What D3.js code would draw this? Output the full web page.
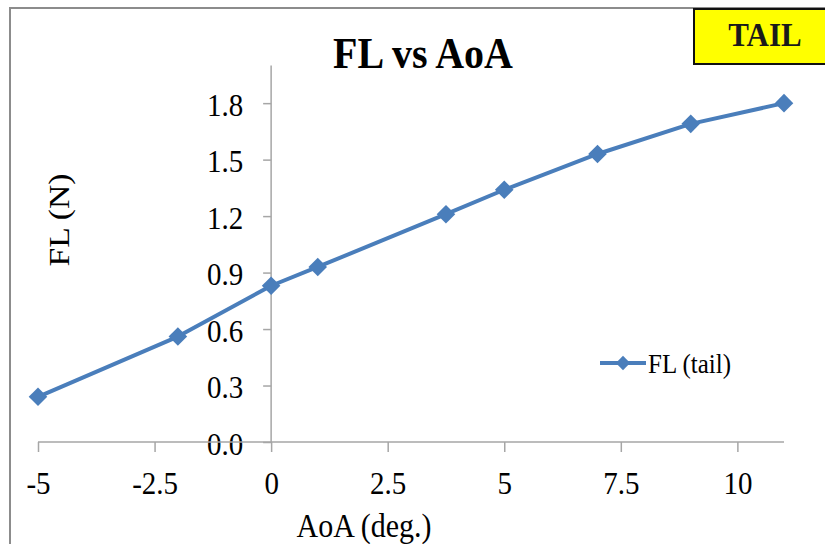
<!DOCTYPE html>
<html>
<head>
<meta charset="utf-8">
<script src="https://cdn.jsdelivr.net/npm/d3@7"></script>
<style>
body { margin:0; background:#fff; }
text { font-family: "Liberation Serif", "Times New Roman", serif; }
</style>
</head>
<body>
<script>
// data
var aoa = [-5, -2, 0, 1, 3.75, 5, 7, 9, 11];
var fl = [0.24, 0.56, 0.83, 0.93, 1.21, 1.34, 1.53, 1.69, 1.80];
var xTicks = [-5, -2.5, 0, 2.5, 5, 7.5, 10];
var yTicks = [0, 0.3, 0.6, 0.9, 1.2, 1.5, 1.8];

var width = 825, height = 544;
var blue = "#4a7ebb";
var stretch = 1.12; // the original picture is a bit taller than wide

var svg = d3.select("body").append("svg").attr("width",width).attr("height",height);

// outer frame (cut off at right and bottom)
svg.append("rect").attr("x",10).attr("y",8).attr("width",840).attr("height",560)
	.attr("fill","none").attr("stroke","#8c8c8c").attr("stroke-width",2);

var x = d3.scaleLinear().domain([-5,11]).range([38,784]);
var y = d3.scaleLinear().domain([0,2.0]).range([442,65.5]);

// helper: text stretched vertically (screen direction) around its anchor point
function label(tx, ty, rot, size, weight, anchor, str){
	var sc = rot === 0 ? "scale(1,"+stretch+")" : "scale("+stretch+",1)";
	return svg.append("text")
		.attr("transform","translate("+tx+","+ty+") rotate("+rot+") "+sc)
		.attr("text-anchor",anchor).attr("font-size",size).attr("font-weight",weight)
		.text(str);
}

// y axis sits at x = 0
var yAxis = svg.append("g").attr("transform","translate("+x(0)+",0)")
	.call(d3.axisLeft(y).tickValues(yTicks).tickSize(8).tickPadding(20)
		.tickFormat(d3.format(".1f")));
yAxis.select(".domain").attr("stroke","#a6a6a6").attr("stroke-width",1.5).attr("d","M0,"+y(2.0)+"V"+y(0));
yAxis.selectAll(".tick line").attr("stroke","#a6a6a6").attr("stroke-width",1.5);
yAxis.selectAll(".tick text").attr("font-size",29).attr("fill","#000")
	.attr("font-family","Liberation Serif").attr("dy",null).attr("y",11)
	.attr("transform","scale(1,"+stretch+")");

// x axis sits at y = 0
var xAxis = svg.append("g").attr("transform","translate(0,"+y(0)+")")
	.call(d3.axisBottom(x).tickValues(xTicks).tickSize(10).tickPadding(22)
		.tickFormat(function(d){ return String(d); }));
xAxis.select(".domain").attr("stroke","#a6a6a6").attr("stroke-width",1.5).attr("d","M"+x(-5)+",0H"+x(11));
xAxis.selectAll(".tick line").attr("stroke","#a6a6a6").attr("stroke-width",1.5);
xAxis.selectAll(".tick text").attr("font-size",29).attr("fill","#000")
	.attr("font-family","Liberation Serif").attr("dy",null).attr("y",46)
	.attr("transform","scale(1,"+stretch+")");

// line + diamond markers
var line = d3.line().x(function(d,i){ return x(aoa[i]); }).y(function(d){ return y(d); });
svg.append("path").datum(fl).attr("d",line)
	.attr("fill","none").attr("stroke",blue).attr("stroke-width",4).attr("stroke-linejoin","round");

var diamond = d3.symbol().type(d3.symbolDiamond2).size(220);
svg.selectAll(".pt").data(fl).enter().append("path")
	.attr("class","pt")
	.attr("transform",function(d,i){ return "translate("+x(aoa[i])+","+y(d)+")"; })
	.attr("d",diamond).attr("fill",blue);

// title
label(423, 68, 0, 40, "bold", "middle", "FL vs AoA");

// axis labels
label(364, 537, 0, 30, "normal", "middle", "AoA (deg.)");
label(69, 220, -90, 30, "normal", "middle", "FL (N)");

// legend
svg.append("line").attr("x1",600).attr("x2",646).attr("y1",363).attr("y2",363)
	.attr("stroke",blue).attr("stroke-width",4);
svg.append("path").attr("transform","translate(623,363)")
	.attr("d",d3.symbol().type(d3.symbolDiamond2).size(130)).attr("fill",blue);
label(648, 373, 0, 25, "normal", "start", "FL (tail)");

// TAIL tag
svg.append("rect").attr("x",694).attr("y",9).attr("width",140).attr("height",55)
	.attr("fill","#ffff00").attr("stroke","#111").attr("stroke-width",2);
label(765, 46, 0, 31, "bold", "middle", "TAIL").attr("fill","#1a1a1a");
</script>
</body>
</html>
